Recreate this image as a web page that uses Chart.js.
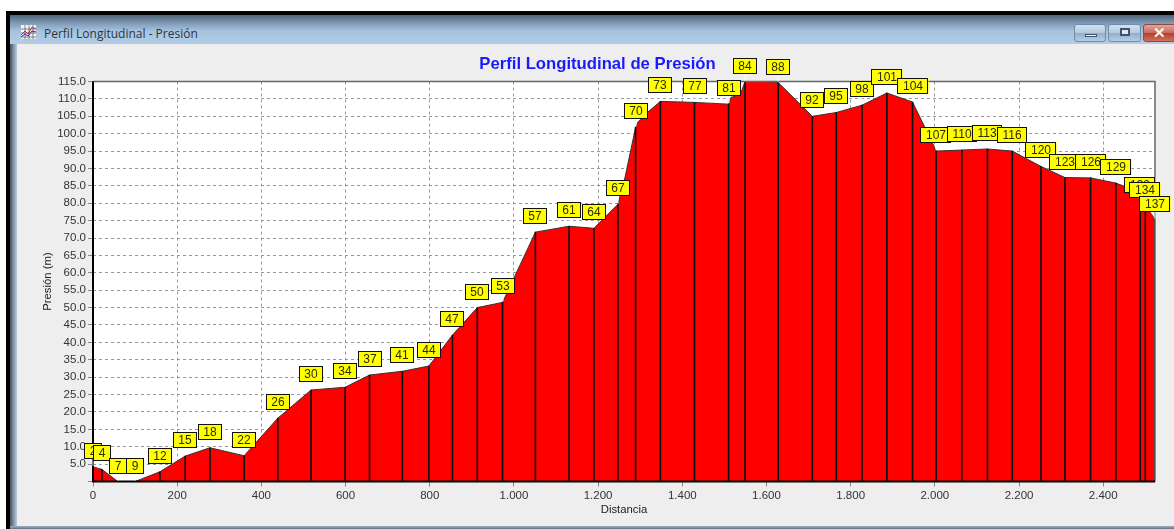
<!DOCTYPE html>
<html lang="es">
<head>
<meta charset="utf-8">
<title>Perfil Longitudinal - Presión</title>
<script src="https://cdn.jsdelivr.net/npm/chart.js@4/dist/chart.umd.js"></script>
<style>
html,body{margin:0;padding:0;background:#fff;width:1174px;height:529px;overflow:hidden}
#black{position:absolute;left:6px;top:11px;width:1168px;height:518px;background:#000}
#frame{position:absolute;left:10px;top:15px;width:1164px;height:514px;background:linear-gradient(90deg,#46505c 0,#8b9cb0 4px,#b9cbe0 7px)}
#bar{position:absolute;left:10px;top:15px;width:1164px;height:29px;background:linear-gradient(180deg,#4f6275 0,#7f9ab6 8px,#a6c2de 16px,#b3cde6 29px)}
#client{position:absolute;left:17px;top:44px;width:1157px;height:483px;background:#eeeeee}
#bottom{position:absolute;left:10px;top:526px;width:1164px;height:3px;background:linear-gradient(180deg,#9fb0c4,#5f7488)}
#cap{position:absolute;left:44px;top:25px;font:12px/17px "Open Sans",sans-serif;color:#2c3540;white-space:nowrap}
#icon{position:absolute;left:20px;top:24px}
.btn{position:absolute;top:24px;height:16px;border:1px solid #6f8cab;border-radius:3px;background:linear-gradient(180deg,#d3e1f0 0,#b4cae1 48%,#93aecb 52%,#b6cde5 100%)}
.btn i{position:absolute;display:block}
canvas{position:absolute;left:40px;top:44px}
</style>
</head>
<body>
<div id="black"></div><div id="frame"></div><div id="bar"></div><div id="client"></div><div id="bottom"></div>
<svg id="icon" width="17" height="17" viewBox="0 0 17 17">
<rect x="1" y="1" width="15" height="14" fill="#f4f4f4"/>
<path d="M1 5H16M1 9H16M1 13H16M5 1V15M9 1V15M13 1V15" stroke="#555" stroke-width=".7"/>
<path d="M1 11L5 7L8 10L12 3L16 5" stroke="#d22" fill="none"/>
<path d="M1 13L5 10L8 12L12 7L16 8" stroke="#22c" fill="none"/>
</svg>
<div id="cap">Perfil Longitudinal - Presión</div>
<div class="btn" style="left:1074px;width:30px"><i style="left:10px;top:9px;width:10px;height:1px;background:#eef3f8;border:1px solid #44566a"></i></div>
<div class="btn" style="left:1108px;width:31px"><i style="left:11px;top:3px;width:6px;height:4px;border:2px solid #3f546a;background:#dfe8f2"></i></div>
<div class="btn" style="left:1143px;width:31px;border-color:#8a4a40;background:linear-gradient(180deg,#e0a59b 0,#cc6a5a 48%,#b03f2e 52%,#d4705e 100%);text-align:center;color:#f4f4f4;font:bold 15px/15px 'Liberation Sans',sans-serif">✕</div>
<canvas id="chart" width="1134" height="485"></canvas>
<script>
const nodeLabels = ['2','4','7','9','12','15','18','22','26','30','34','37','41','44','47','50','53','57','61','64','67','70','73','77','81','84','88','92','95','98','101','104','107','110','113','116','120','123','126','129','132','134','137'];
const nodeDistances = [0,21,59,100,159,219,278,359,439,518,599,657,735,798,854,913,973,1051,1131,1190,1247,1289,1348,1429,1510,1549,1628,1709,1766,1827,1886,1947,2003,2064,2125,2184,2252,2309,2370,2430,2488,2500,2523];
const nodeValues = [4.2,3.5,0,0,2.8,7.3,9.7,7.4,18.2,26.3,27.1,30.6,31.7,33.2,42.1,50,51.5,71.7,73.4,72.8,79.7,101.8,109.3,109,108.5,115,114.7,105,106.1,108.2,111.7,109.1,95,95.3,95.6,95,90.6,87.4,87.3,85.8,80.6,79.2,75.3];
// Vertices of the profile that lie between two labelled nodes
const bendDistances = [1264,1295,1315,1516,1537,1600,1995,2463,2515];
const bendValues = [87.5,103.4,105.9,110.5,111,115,97.2,84.3,76.8];
const yTicks = {min:0,max:115,step:5};
const xTicks = {min:0,max:2523,step:200};

const nodePoints = nodeDistances.map((x,i)=>({x,y:nodeValues[i]}));
const profilePoints = nodePoints.concat(bendDistances.map((x,i)=>({x,y:bendValues[i]}))).sort((a,b)=>a.x-b.x);

const FONT = '"Liberation Sans",Arial,sans-serif';
const framePlugin = {
  id:'frame',
  beforeDraw(c){
    const a=c.chartArea,g=c.ctx;
    g.save();g.fillStyle='#fff';g.fillRect(a.left,a.top,a.width,a.height);g.restore();
  },
  afterDraw(c){
    const a=c.chartArea,g=c.ctx,xs=c.scales.x,ys=c.scales.y;
    g.save();
    g.strokeStyle='#666';g.lineWidth=1.5;
    g.beginPath();g.moveTo(a.left,a.top);g.lineTo(a.right,a.top);g.lineTo(a.right,a.bottom);g.stroke();
    g.strokeStyle='#000';g.lineWidth=2;
    g.beginPath();g.moveTo(a.left,a.top);g.lineTo(a.left,a.bottom);g.lineTo(a.right,a.bottom);g.stroke();
    g.font='12px '+FONT;g.textAlign='center';g.textBaseline='middle';
    nodePoints.forEach((p,i)=>{
      const px=Math.round(xs.getPixelForValue(p.x)),py=ys.getPixelForValue(p.y);
      const w=Math.round(g.measureText(nodeLabels[i]).width)+11,h=16,cy=Math.round(py-16);
      g.fillStyle='rgba(255,255,255,.85)';g.fillRect(px-0.5,cy,1,py-cy-1);
      g.fillStyle='#ffff00';g.fillRect(px-w/2,cy-h/2,w,h);
      g.strokeStyle='#111';g.lineWidth=1;g.strokeRect(Math.floor(px-w/2)+.5,cy-h/2+.5,w-1,h-1);
      g.fillStyle='#2a2a00';g.fillText(nodeLabels[i],px,cy+.5);
    });
    g.restore();
  }
};

new Chart(document.getElementById('chart'),{
  type:'line',
  data:{datasets:[
    {type:'bar',data:nodePoints,backgroundColor:'#111',barThickness:1,borderWidth:0,order:1},
    {type:'line',data:profilePoints,borderColor:'#333',borderWidth:1,backgroundColor:'#ff0000',fill:'origin',pointRadius:0,tension:0,order:2}
  ]},
  plugins:[framePlugin],
  options:{
    responsive:false,animation:false,events:[],
    layout:{padding:{left:0,right:19,top:0,bottom:0}},
    plugins:{
      legend:{display:false},tooltip:{enabled:false},
      title:{display:true,text:'Perfil Longitudinal de Presión',color:'#1a1aff',
        font:{family:FONT,size:16.7,weight:'bold',lineHeight:1.2},padding:{top:10,bottom:7.5}}
    },
    scales:{
      x:{type:'linear',offset:false,min:xTicks.min,max:xTicks.max,
        afterFit(s){s.height=47.5;},
        afterBuildTicks(s){s.ticks=[];for(let v=xTicks.min;v<=xTicks.max;v+=xTicks.step)s.ticks.push({value:v});},
        grid:{color:'#999',tickColor:'#888',tickLength:5,borderDash:[3,3],offset:false},
        border:{display:false,dash:[3,3]},
        ticks:{color:'#333',font:{family:FONT,size:11.5},maxRotation:0,autoSkip:false,padding:2,
          callback:v=>v>=1000?Math.floor(v/1000)+'.'+String(v%1000).padStart(3,'0'):String(v)},
        title:{display:true,text:'Distancia',color:'#222',font:{family:FONT,size:11.3},padding:{top:0,bottom:12}}
      },
      y:{type:'linear',min:yTicks.min,max:yTicks.max,
        afterFit(s){s.width=53;},
        afterBuildTicks(s){s.ticks=[];for(let v=yTicks.min;v<=yTicks.max;v+=yTicks.step)s.ticks.push({value:v});},
        grid:{color:'#999',tickColor:'#888',tickLength:5,borderDash:[3,3]},
        border:{display:false,dash:[3,3]},
        ticks:{color:'#333',font:{family:FONT,size:11.5},autoSkip:false,padding:2,
          callback:v=>v===0?'':v.toFixed(1)},
        title:{display:true,text:'Presión (m)',color:'#222',font:{family:FONT,size:11.3},padding:{top:1,bottom:0}}
      }
    }
  }
});
</script>
</body>
</html>
